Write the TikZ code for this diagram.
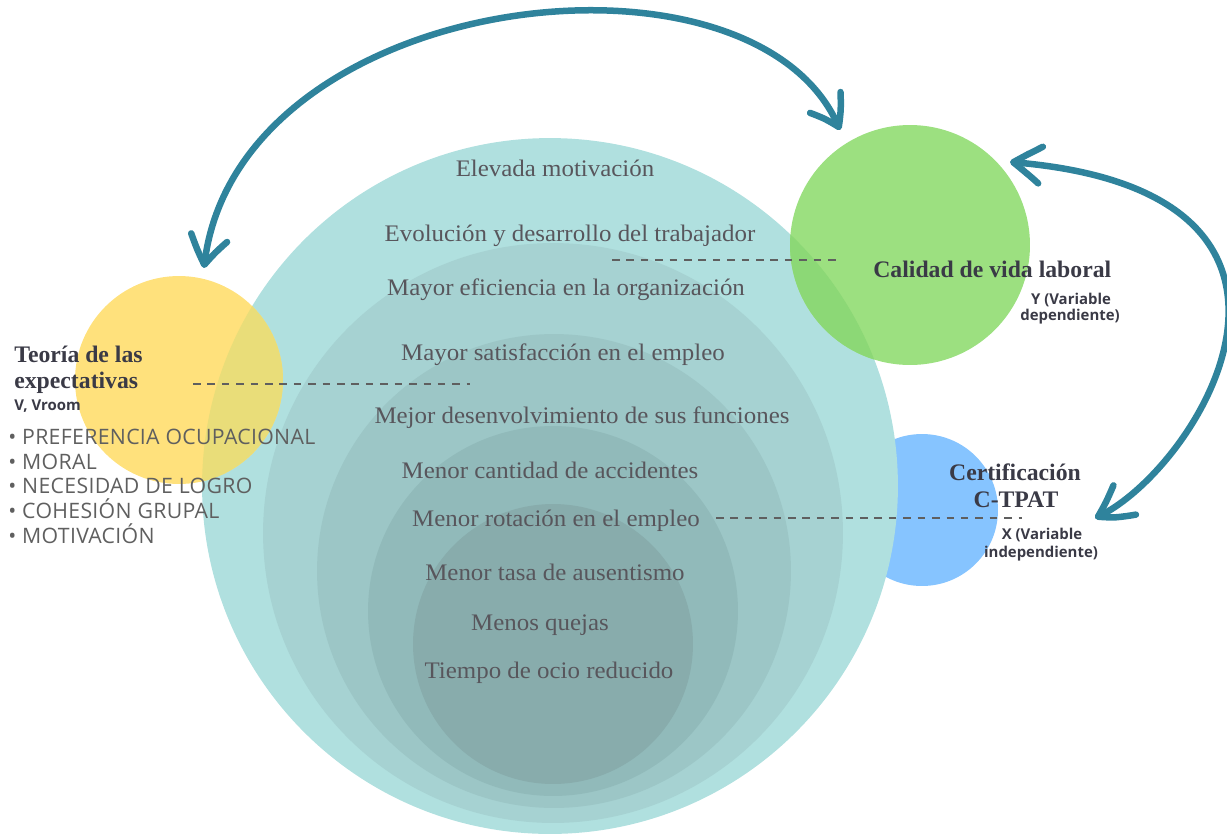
\documentclass[tikz,border=0pt]{standalone}
\usepackage{fontspec}
\setmainfont{Liberation Serif}
\newfontfamily\bodyfont[FakeStretch=1.05]{Liberation Serif}
\newfontfamily\titlefont{Liberation Serif}
\newfontfamily\sansfont{Open Sans}
\newfontfamily\bulletfont[LetterSpace=1.5]{Open Sans}
\usetikzlibrary{arrows.meta,bending}
\definecolor{tealA}{RGB}{176,224,223}
\definecolor{tealB}{RGB}{166,210,210}
\definecolor{tealC}{RGB}{156,198,198}
\definecolor{tealD}{RGB}{145,186,186}
\definecolor{tealE}{RGB}{136,172,172}
\definecolor{yel}{RGB}{255,225,124}
\definecolor{yelA}{RGB}{233,221,121}
\definecolor{yelB}{RGB}{224,212,120}
\definecolor{grn}{RGB}{156,224,128}
\definecolor{grnA}{RGB}{140,216,118}
\definecolor{blu}{RGB}{134,196,255}
\definecolor{arrowc}{RGB}{47,131,156}
\definecolor{bodygray}{RGB}{88,86,92}
\definecolor{titlegray}{RGB}{58,58,70}
\definecolor{bulletgray}{RGB}{95,95,95}
\definecolor{dashgray}{RGB}{95,95,95}
\tikzset{
  bodytext/.style={font=\bodyfont\fontsize{13.5}{16}\selectfont, text=bodygray, inner sep=0pt, anchor=base},
  titletext/.style={font=\titlefont\bfseries\fontsize{13.5}{16}\selectfont, text=titlegray, inner sep=0pt},
  smalltext/.style={font=\sansfont\bfseries\fontsize{8.5}{11}\selectfont, text=titlegray, inner sep=0pt, anchor=base},
  bullettext/.style={font=\bulletfont\fontsize{12.1}{14}\selectfont, text=bulletgray, inner sep=0pt, anchor=base west},
  dashline/.style={draw=dashgray, line width=1.4pt, dash pattern=on 4.3pt off 3.9pt},
  bigarrow/.style={draw=arrowc, line width=3.7pt, line cap=round,
     {Straight Barb[length=16pt,width=21pt,round,bend]}-{Straight Barb[length=16pt,width=21pt,round,bend]}},
}
\begin{document}
\begin{tikzpicture}[x=0.02cm,y=-0.02cm]
\useasboundingbox (0,0) rectangle (1227,836);
% circle centres
\coordinate (cB) at (922,510);
\coordinate (c1) at (550,486);
\coordinate (c2) at (553,533);
\coordinate (c3) at (554,571);
\coordinate (c4) at (553,611);
\coordinate (c5) at (553,644);
\coordinate (cY) at (179,380);
\coordinate (cG) at (910,245);
% blue circle (behind)
\fill[blu] (cB) circle[radius=1.52cm];
% nested circles
\fill[tealA] (c1) circle[radius=6.96cm];
\fill[tealB] (c2) circle[radius=5.8cm];
\fill[tealC] (c3) circle[radius=4.74cm];
\fill[tealD] (c4) circle[radius=3.7cm];
\fill[tealE] (c5) circle[radius=2.8cm];
% yellow circle
\fill[yel] (cY) circle[radius=2.08cm];
\begin{scope}
  \clip (cY) circle[radius=2.08cm];
  \fill[yelA] (c1) circle[radius=6.96cm];
  \fill[yelB] (c2) circle[radius=5.8cm];
\end{scope}
% green circle
\fill[grn] (cG) circle[radius=2.4cm];
\begin{scope}
  \clip (cG) circle[radius=2.4cm];
  \fill[grnA] (c1) circle[radius=6.96cm];
\end{scope}
% dashed lines
\coordinate (d1a) at (612,260); \coordinate (d1b) at (842,260);
\coordinate (d2a) at (193,384); \coordinate (d2b) at (470,384);
\coordinate (d3a) at (716,518); \coordinate (d3b) at (1022,518);
\draw[dashline] (d1a) -- (d1b);
\draw[dashline] (d2a) -- (d2b);
\draw[dashline] (d3a) -- (d3b);
% arrows
\coordinate (a1) at (204,268);
\coordinate (a2) at (840,130);
\coordinate (a3) at (1010,162);
\coordinate (a4) at (1095,518);
\draw[bigarrow] (a1) .. controls (232,-12) and (759,-73) .. (a2);
\draw[bigarrow] (a3) .. controls (1375,190) and (1195,475) .. (a4);
% centre texts
\node[bodytext] (t1) at (555,176) {Elevada motivación};
\node[bodytext] (t2) at (570,241) {Evolución y desarrollo del trabajador};
\node[bodytext] (t3) at (566,295) {Mayor eficiencia en la organización};
\node[bodytext] (t4) at (563,360) {Mayor satisfacción en el empleo};
\node[bodytext] (t5) at (582,423) {Mejor desenvolvimiento de sus funciones};
\node[bodytext] (t6) at (550,478) {Menor cantidad de accidentes};
\node[bodytext] (t7) at (556,526) {Menor rotación en el empleo};
\node[bodytext] (t8) at (555,580) {Menor tasa de ausentismo};
\node[bodytext] (t9) at (540,630) {Menos quejas};
\node[bodytext] (t10) at (549,678) {Tiempo de ocio reducido};
% left block
\node[titletext, anchor=base west] (te1) at (14,362) {Teoría de las};
\node[titletext, anchor=base west] (te2) at (14,388) {expectativas};
\node[smalltext, anchor=base west] (te3) at (14,410) {V, Vroom};
\node[bullettext] (b1) at (8,444) {• PREFERENCIA OCUPACIONAL};
\node[bullettext] (b2) at (8,469) {• MORAL};
\node[bullettext] (b3) at (8,493) {• NECESIDAD DE LOGRO};
\node[bullettext] (b4) at (8,518) {• COHESIÓN GRUPAL};
\node[bullettext] (b5) at (8,543) {• MOTIVACIÓN};
% right labels
\node[titletext, anchor=base west] (cv) at (873,277) {Calidad de vida laboral};
\node[smalltext] (cv1) at (1071,304) {Y (Variable};
\node[smalltext] (cv2) at (1070,320) {dependiente)};
\node[titletext, anchor=base] (ce1) at (1015,480) {Certificación};
\node[titletext, anchor=base] (ce2) at (1016,507) {C-TPAT};
\node[smalltext] (ce3) at (1042,539) {X (Variable};
\node[smalltext] (ce4) at (1041,557) {independiente)};
\end{tikzpicture}
\end{document}
